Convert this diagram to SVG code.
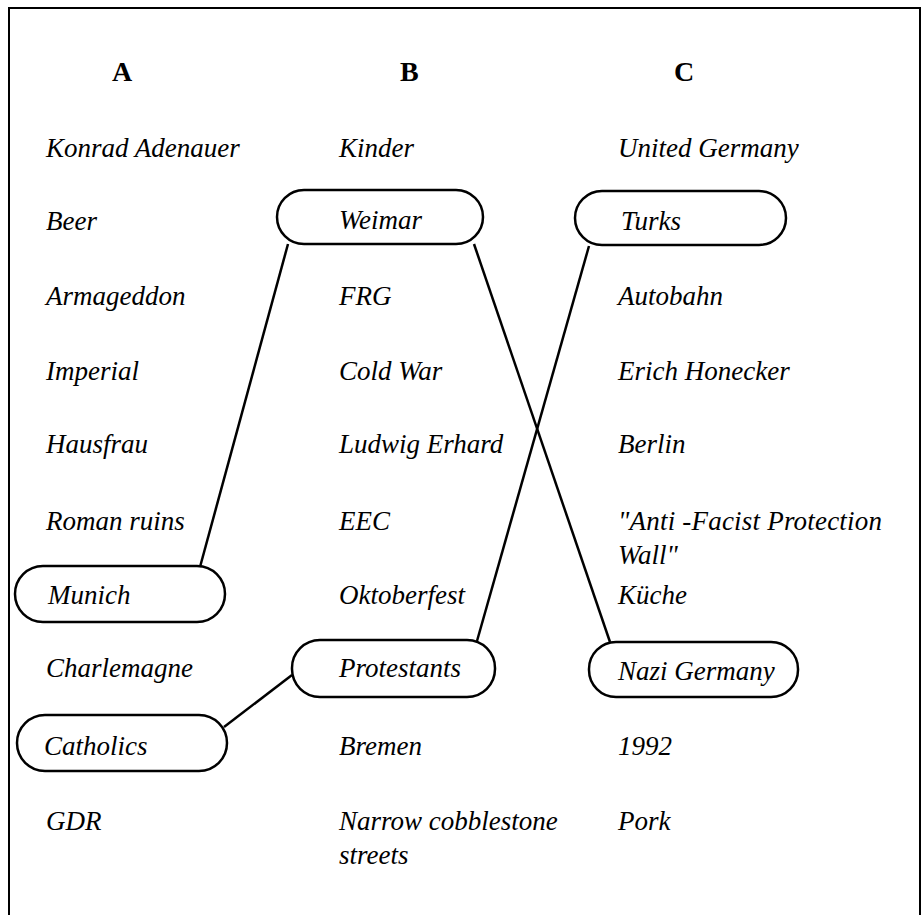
<svg xmlns="http://www.w3.org/2000/svg" width="923" height="915" viewBox="0 0 923 915">
<style>
.t{font-family:"Liberation Serif","Times New Roman",serif;font-style:italic;font-size:27px;fill:#000}
.h{font-family:"Liberation Serif","Times New Roman",serif;font-weight:bold;font-size:28px;fill:#000}
.box{fill:none;stroke:#000;stroke-width:2.5}
.ln{stroke:#000;stroke-width:2.5;fill:none}
</style>
<rect width="923" height="915" fill="#fff"/>
<path d="M9,915 V8 H920 V915" fill="none" stroke="#000" stroke-width="2"/>
<g id="headers">
<text class="h" x="112" y="81">A</text>
<text class="h" x="400" y="81">B</text>
<text class="h" x="674" y="81">C</text>
</g>
<g id="connectors">
<line class="ln" x1="200" y1="567" x2="288" y2="244"/>
<line class="ln" x1="474" y1="244" x2="610" y2="642"/>
<line class="ln" x1="589" y1="246" x2="477" y2="641"/>
<line class="ln" x1="224" y1="727" x2="292" y2="675"/>
</g>
<g id="colA">
<text class="t" x="46" y="157">Konrad Adenauer</text>
<text class="t" x="46" y="230">Beer</text>
<text class="t" x="46" y="305">Armageddon</text>
<text class="t" x="46" y="380">Imperial</text>
<text class="t" x="46" y="453">Hausfrau</text>
<text class="t" x="46" y="530">Roman ruins</text>
<text class="t" x="46" y="677">Charlemagne</text>
<text class="t" x="46" y="830">GDR</text>
</g>
<g id="munich">
<rect class="box" x="15" y="566" width="210" height="56" rx="28"/>
<text class="t" x="48" y="604">Munich</text>
</g>
<g id="catholics">
<rect class="box" x="17" y="715" width="210" height="56" rx="28"/>
<text class="t" x="44" y="755">Catholics</text>
</g>
<g id="colB">
<text class="t" x="339" y="157">Kinder</text>
<text class="t" x="339" y="305">FRG</text>
<text class="t" x="339" y="380">Cold War</text>
<text class="t" x="339" y="453">Ludwig Erhard</text>
<text class="t" x="339" y="530">EEC</text>
<text class="t" x="339" y="604">Oktoberfest</text>
<text class="t" x="339" y="755">Bremen</text>
<text class="t" x="339" y="830">Narrow cobblestone</text>
<text class="t" x="339" y="864">streets</text>
</g>
<g id="weimar">
<rect class="box" x="277" y="190" width="206" height="54" rx="27"/>
<text class="t" x="339" y="229">Weimar</text>
</g>
<g id="protestants">
<rect class="box" x="292" y="640" width="203" height="57" rx="28"/>
<text class="t" x="339" y="677">Protestants</text>
</g>
<g id="colC">
<text class="t" x="618" y="157">United Germany</text>
<text class="t" x="618" y="305">Autobahn</text>
<text class="t" x="618" y="380">Erich Honecker</text>
<text class="t" x="618" y="453">Berlin</text>
<text class="t" x="618" y="530" textLength="264">"Anti -Facist Protection</text>
<text class="t" x="618" y="564">Wall"</text>
<text class="t" x="618" y="604">Küche</text>
<text class="t" x="618" y="755">1992</text>
<text class="t" x="618" y="830">Pork</text>
</g>
<g id="turks">
<rect class="box" x="575" y="191" width="211" height="54" rx="27"/>
<text class="t" x="621" y="230">Turks</text>
</g>
<g id="nazi">
<rect class="box" x="589" y="642" width="209" height="55" rx="27"/>
<text class="t" x="618" y="680">Nazi Germany</text>
</g>
</svg>
